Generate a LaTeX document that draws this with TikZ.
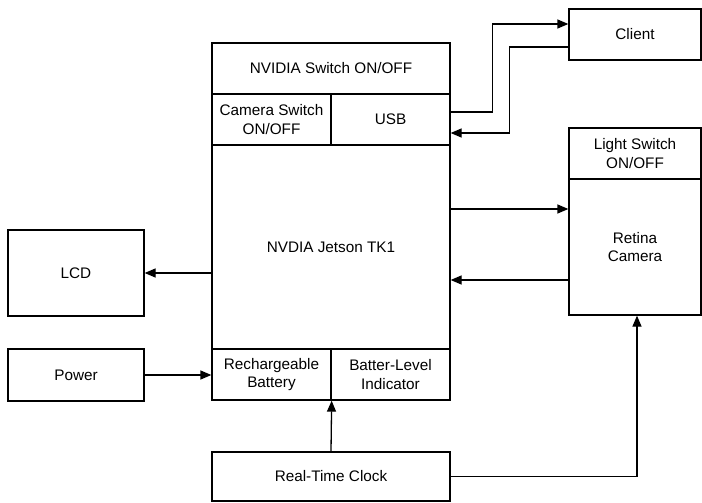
\documentclass[tikz,border=0pt]{standalone}
\usepackage{fontspec}
\setmainfont{Liberation Sans}
\usetikzlibrary{arrows.meta}
\begin{document}
\begin{tikzpicture}[x=1pt,y=-1pt,
  box/.style={draw, line width=1.3pt, rectangle, inner sep=0pt, align=center,
    font=\fontsize{15.3}{18.5}\selectfont},
  arr/.style={line width=1.3pt, -{Triangle[length=11pt,width=9pt]}}]
\useasboundingbox (0,0) rectangle (702,503);
\node[box, minimum width=238pt, minimum height=51pt] (nsw) at (331,68.5) {NVIDIA Switch ON/OFF};
\node[box, minimum width=119pt, minimum height=51pt] (cam) at (271.5,119.5) {Camera Switch\\ON/OFF};
\node[box, minimum width=119pt, minimum height=51pt] (usb) at (390.5,119.5) {USB};
\node[box, minimum width=238pt, minimum height=204pt] (jet) at (331,247) {NVDIA Jetson TK1};
\node[box, minimum width=119pt, minimum height=51pt] (bat) at (271.5,374.5) {Rechargeable\\Battery};
\node[box, minimum width=119pt, minimum height=51pt] (lvl) at (390.5,374.5) {Batter-Level\\Indicator};
\node[box, minimum width=238pt, minimum height=49pt] (rtc) at (331,476.5) {Real-Time Clock};
\node[box, minimum width=132pt, minimum height=51pt] (client) at (635,34.5) {Client};
\node[box, minimum width=132pt, minimum height=51pt] (light) at (635,153.5) {Light Switch\\ON/OFF};
\node[box, minimum width=132pt, minimum height=136pt] (retina) at (635,247) {Retina\\Camera};
\node[box, minimum width=136pt, minimum height=86pt] (lcd) at (76,273) {LCD};
\node[box, minimum width=136pt, minimum height=52pt] (power) at (76,375) {Power};

\draw[arr] ([yshift=7.5pt]usb.east) -- ++(42,0) |- ([yshift=10.5pt]client.west);
\draw[arr] ([yshift=-12.5pt]client.west) -- ++(-59,0) |- ([yshift=-13.5pt]usb.east);
\draw[arr] ([yshift=38pt]jet.east) -- ([yshift=38pt]retina.west);
\draw[arr] ([yshift=-33pt]retina.west) -- ([yshift=-33pt]jet.east);
\draw[arr] ([yshift=-26pt]jet.west) -- (lcd.east);
\draw[arr] (power.east) -- (power.east -| bat.west);
\draw[arr] (rtc.north) -- (bat.south east);
\draw[arr] (rtc.east) -| ([xshift=2pt]retina.south);
\end{tikzpicture}
\end{document}
